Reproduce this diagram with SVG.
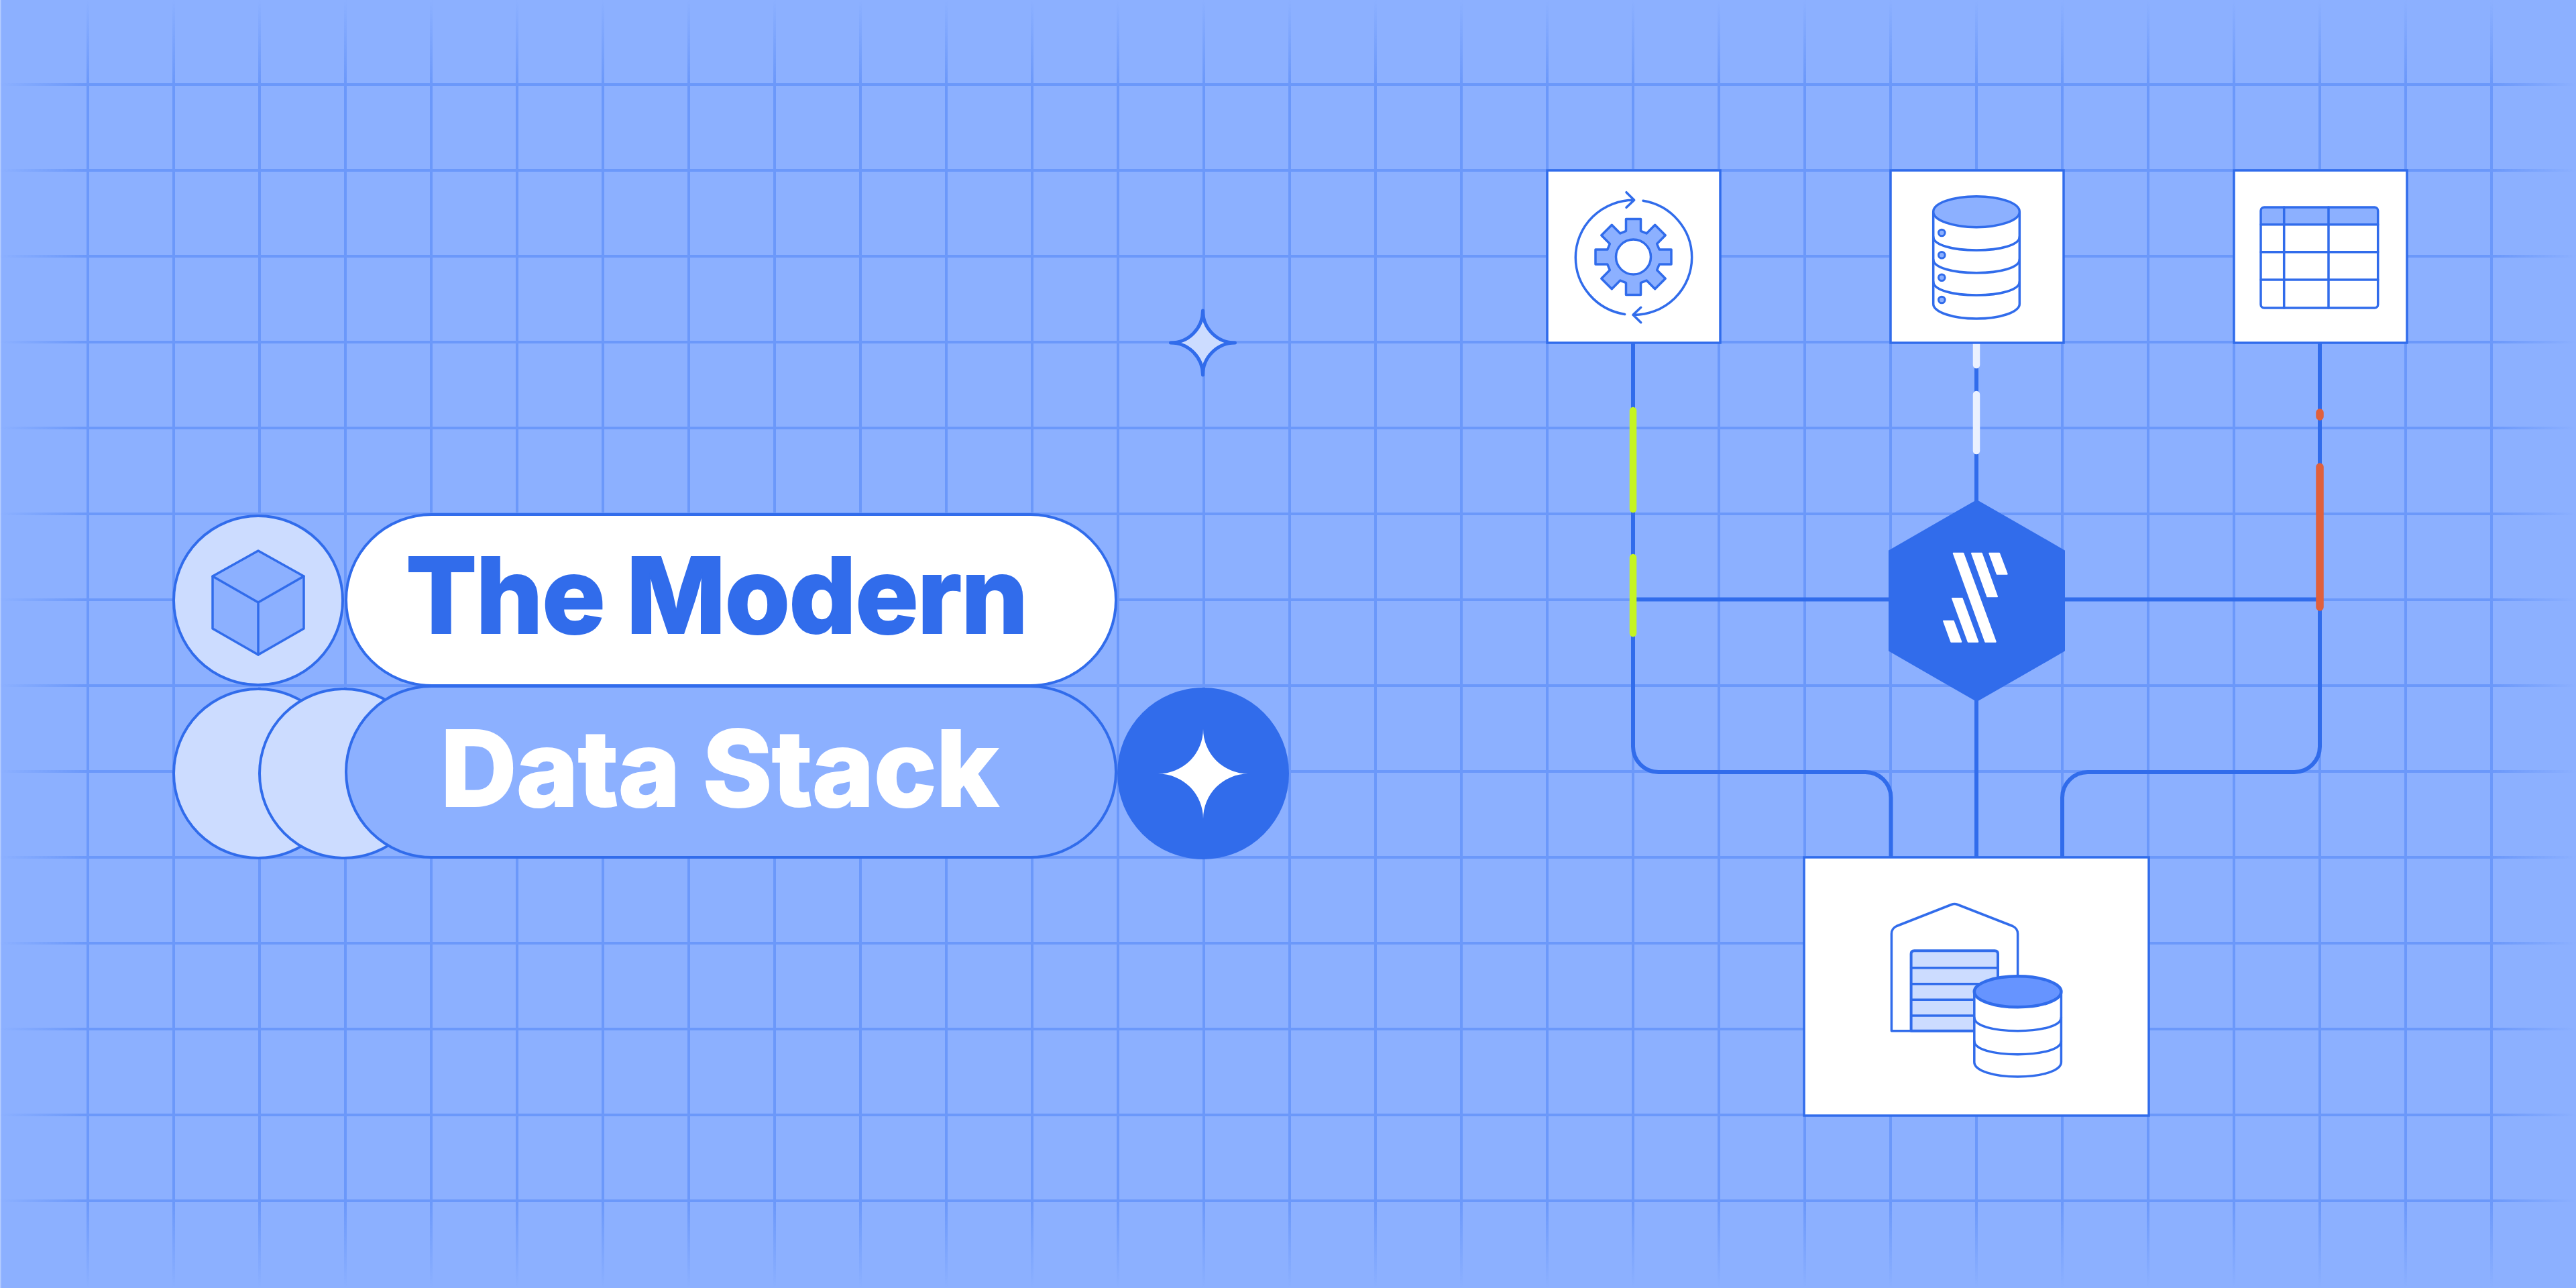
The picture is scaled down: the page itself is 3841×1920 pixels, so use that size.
<svg xmlns="http://www.w3.org/2000/svg" width="3841" height="1920" viewBox="0 0 3841 1920">
<style>
.o{fill:none;stroke:#316ceb;stroke-width:3.5;stroke-linecap:round;stroke-linejoin:round}
.f{fill:#8cb0ff;stroke:#316ceb;stroke-width:3.5;stroke-linejoin:round}
.w{fill:#fff;stroke:#316ceb;stroke-width:3.5;stroke-linejoin:round}
.l{fill:#ccdcff;stroke:#316ceb;stroke-width:4;stroke-linejoin:round}
.box{fill:#fff;stroke:#316ceb;stroke-width:3.5}
.c{fill:none;stroke:#316ceb;stroke-width:6;stroke-linejoin:round}
.t{font-family:Inter,"Liberation Sans",sans-serif;font-weight:800;font-size:157px}
.logo{fill:#fff;stroke:#fff;stroke-width:2;stroke-linejoin:round}
</style>
<defs>
<linearGradient id="gh" gradientUnits="userSpaceOnUse" x1="0" y1="0" x2="3841" y2="0">
<stop offset="0" stop-color="#6b98fa" stop-opacity="0"/><stop offset="0.034" stop-color="#6b98fa"/><stop offset="0.967" stop-color="#6b98fa"/><stop offset="1" stop-color="#6b98fa" stop-opacity="0"/>
</linearGradient>
<linearGradient id="gv" gradientUnits="userSpaceOnUse" x1="0" y1="0" x2="0" y2="1920">
<stop offset="0" stop-color="#6b98fa" stop-opacity="0"/><stop offset="0.066" stop-color="#6b98fa"/><stop offset="0.932" stop-color="#6b98fa"/><stop offset="1" stop-color="#6b98fa" stop-opacity="0"/>
</linearGradient>
</defs>
<rect width="3841" height="1920" fill="#8cb0ff"/>
<rect x="0" y="0" width="1.5" height="1920" fill="#b5ccff"/>
<g id="grid" fill="none" stroke-width="4">
<path stroke="url(#gv)" d="M131 0V1920M259 0V1920M387 0V1920M515 0V1920M643 0V1920M771 0V1920M899 0V1920M1027 0V1920M1155 0V1920M1283 0V1920M1411 0V1920M1539 0V1920M1667 0V1920M1795 0V1920M1923 0V1920M2051 0V1920M2179 0V1920M2307 0V1920M2435 0V1920M2563 0V1920M2691 0V1920M2819 0V1920M2947 0V1920M3075 0V1920M3203 0V1920M3331 0V1920M3459 0V1920M3587 0V1920M3715 0V1920"/>
<path stroke="url(#gh)" d="M0 126H3841M0 254H3841M0 382H3841M0 510H3841M0 638H3841M0 766H3841M0 894H3841M0 1022H3841M0 1150H3841M0 1278H3841M0 1406H3841M0 1534H3841M0 1662H3841M0 1790H3841"/>
</g>
<g id="connectors">
<path class="c" d="M2435 510V1113A38 38 0 0 0 2473 1151H2781A38 38 0 0 1 2819.500 1189V1278"/>
<path class="c" d="M3459 510V1113A38 38 0 0 1 3421 1151H3113A38 38 0 0 0 3075 1189V1278"/>
<path class="c" d="M2947 510V1278"/>
<path class="c" d="M2435 893.500H3459"/>
<g fill="none" stroke-width="10.500" stroke-linecap="round">
<path stroke="#c5f422" d="M2435 612V759M2435 831V944"/>
<path stroke="#ebf1ff" d="M2947 512V544M2947 588V672"/>
<path stroke="#e0603c" stroke-width="11.500" d="M3459 615V621M3459 696V905"/>
</g>
</g>
<g id="sparkle">
<path d="M1793.500 463A48 48 0 0 0 1841.500 511A48 48 0 0 0 1793.500 559A48 48 0 0 0 1745.500 511A48 48 0 0 0 1793.500 463Z" fill="#ccdcff" stroke="#316ceb" stroke-width="5" stroke-linejoin="round"/>
</g>
<g id="cube-circle">
<circle class="l" cx="385" cy="895" r="126"/>
<path class="f" d="M385 821L453 859V937L385 976L317 937V859Z"/>
<path class="o" d="M317 859L385 898L453 859M385 898V976"/>
</g>
<g id="circle-left"><circle class="l" cx="385" cy="1153" r="126"/></g>
<g id="circle-mid"><circle class="l" cx="513" cy="1153" r="126"/></g>
<g id="pill-modern">
<rect x="516" y="767" width="1148" height="255" rx="127.500" fill="#fff" stroke="#316ceb" stroke-width="4"/>
<text class="t" x="605" y="944" fill="#316ceb" stroke="#316ceb" stroke-width="2" textLength="928" lengthAdjust="spacing">The Modern</text>
</g>
<g id="pill-data-stack">
<rect x="516" y="1023" width="1148" height="255" rx="127.500" fill="#8cb0ff" stroke="#316ceb" stroke-width="4"/>
<text class="t" x="657" y="1202" fill="#fff" stroke="#fff" stroke-width="2" textLength="832" lengthAdjust="spacing">Data Stack</text>
</g>
<g id="star-circle">
<circle cx="1794" cy="1153" r="128" fill="#316ceb"/>
<path d="M1794 1086A67 67 0 0 0 1861 1153.500A67 67 0 0 0 1794 1221A67 67 0 0 0 1727 1153.500A67 67 0 0 0 1794 1086Z" fill="#fff"/>
</g>
<g id="gear-box">
<rect class="box" x="2307" y="254" width="258" height="257"/>
<g transform="translate(2435.500 383)">
<path class="f" d="M-11 -38.700V-56.500H11V-38.700L19.600 -35.100L32.200 -47.700L47.700 -32.200L35.100 -19.600L38.700 -11H56.500V11H38.700L35.100 19.600L47.700 32.200L32.200 47.700L19.600 35.100L11 38.700V56.500H-11V38.700L-19.600 35.100L-32.200 47.700L-47.700 32.200L-35.100 19.600L-38.700 11H-56.500V-11H-38.700L-35.100 -19.600L-47.700 -32.200L-32.200 -47.700L-19.600 -35.100Z"/>
<circle cx="0" cy="0" r="26" fill="#fff" stroke="#316ceb" stroke-width="3.500"/>
</g>
<path class="o" d="M2422.700 468.400A86.700 85.600 0 0 1 2349.300 383.800A86.700 85.600 0 0 1 2436.700 298.200M2425 286.700L2436.700 298.300L2425 309.300M2450 299.300A86.700 85.600 0 0 1 2522.700 383.800A86.700 85.600 0 0 1 2435 469.400M2446.700 458.300L2435 469.300L2446.700 480.700"/>
</g>
<g id="database-box">
<rect class="box" x="2819" y="254" width="258" height="257"/>
<path class="w" d="M2882.700 315.700V453C2882.700 465 2911 475 2947 475C2983 475 3011.300 465 3011.300 453V315.700Z"/>
<ellipse class="f" cx="2947" cy="315.700" rx="64.300" ry="23"/>
<path class="o" d="M2882.700 353C2882.700 365 2911 373 2947 373C2983 373 3011.300 365 3011.300 353M2882.700 386.700C2882.700 398.700 2911 406.700 2947 406.700C2983 406.700 3011.300 398.700 3011.300 386.700M2882.700 420C2882.700 432 2911 440 2947 440C2983 440 3011.300 432 3011.300 420"/>
<g fill="#8cb0ff" stroke="#316ceb" stroke-width="3">
<circle cx="2895.300" cy="347" r="4.800"/><circle cx="2895.300" cy="380.300" r="4.800"/><circle cx="2895.300" cy="413.700" r="4.800"/><circle cx="2895.300" cy="447" r="4.800"/>
</g>
</g>
<g id="table-box">
<rect class="box" x="3331" y="254" width="258" height="257"/>
<path d="M3371 334.700V314A5 5 0 0 1 3376 309H3540.700A5 5 0 0 1 3545.700 314V334.700Z" fill="#8cb0ff"/>
<rect x="3371" y="309" width="174.700" height="150" rx="5" fill="none" stroke="#316ceb" stroke-width="3.500"/>
<path class="o" d="M3371 334.700H3545.700M3371 375.700H3545.700M3371 417H3545.700M3405.700 309V459M3472 309V459"/>
</g>
<g id="hub">
<path d="M2947.500 746L3078 821V970L2947.500 1045L2817 970V821Z" fill="#316ceb" stroke="#316ceb" stroke-width="2" stroke-linejoin="round"/>
<path class="logo" d="M2912.700 824.700H2927.300L2975.700 956.700H2960.300ZM2940 824.700H2954.700L2978 889.300H2963.300ZM2966.300 824.700H2981L2992.700 855.700H2977.700ZM2911 892H2925.700L2949.300 956.700H2934.700ZM2898 925.700H2912.700L2924.300 956.700H2909.300Z"/>
</g>
<g id="warehouse-box">
<rect class="box" x="2690" y="1278" width="514" height="385"/>
<path class="o" d="M3008.600 1490V1392Q3008.600 1384 3001 1380.500L2919 1348.500Q2914.300 1346.700 2909.600 1348.500L2828 1380.500Q2820.400 1384 2820.400 1392V1536.700H2960"/>
<path class="l" d="M2849.600 1536.700V1422Q2849.600 1417.300 2854.300 1417.300H2974.300Q2979 1417.300 2979 1422V1536.700Z"/>
<path class="o" d="M2849.600 1442.700H2979M2849.600 1466.700H2979M2849.600 1490.300H2979M2849.600 1514H2979"/>
<path class="w" d="M2943.800 1478.300V1583.300C2943.800 1596 2972 1605 3008.600 1605C3045 1605 3073.400 1596 3073.400 1583.300V1478.300Z"/>
<ellipse cx="3008.600" cy="1478.300" rx="64.800" ry="23" fill="#6694ff" stroke="#316ceb" stroke-width="4.500"/>
<path class="o" d="M2943.800 1516.700C2943.800 1529 2972 1536.700 3008.600 1536.700C3045 1536.700 3073.400 1529 3073.400 1516.700M2943.800 1551.700C2943.800 1564 2972 1571.700 3008.600 1571.700C3045 1571.700 3073.400 1564 3073.400 1551.700"/>
</g>
</svg>
